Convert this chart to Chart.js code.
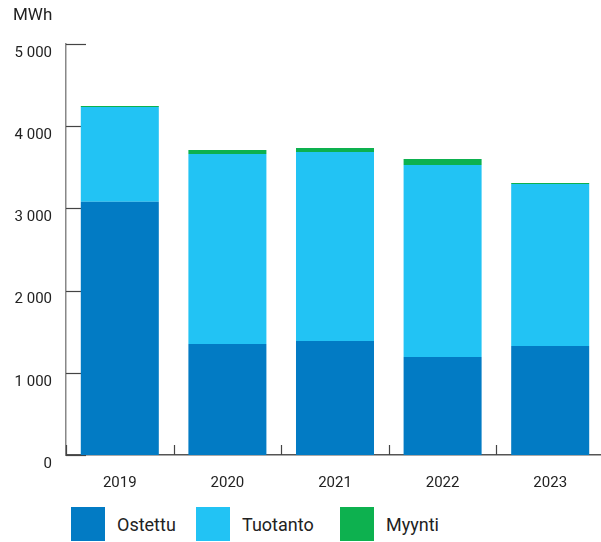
<!DOCTYPE html>
<html>
<head>
<meta charset="utf-8">
<script src="https://cdn.jsdelivr.net/npm/chart.js@4/dist/chart.umd.min.js"></script>
<style>
	html, body { margin: 0; padding: 0; background: #fff; }
	#wrap { position: relative; width: 601px; height: 542px; font-family: Roboto, sans-serif; overflow: hidden; }
	#plot { position: absolute; left: 0; top: 0; width: 604px; height: 500px; }
	#legend { position: absolute; left: 71px; top: 507px; display: flex; }
	.item { display: flex; align-items: center; }
	.item:nth-child(1) { width: 125px; }
	.item:nth-child(2) { width: 144px; }
	.swatch { width: 34px; height: 34px; margin-right: 12px; }
	.text { font-size: 18px; color: #222; }
</style>
</head>
<body>
<div id="wrap">
	<div id="plot"><canvas id="chart"></canvas></div>
	<div id="legend"></div>
</div>
<script>
const years = ['2019', '2020', '2021', '2022', '2023'];
const ostettu = [3081, 1350, 1387, 1192, 1326];
const tuotanto = [1153, 2312, 2299, 2336, 1971];
const myynti = [12, 48, 49, 73, 12];
const yTicks = [0, 1000, 2000, 3000, 4000, 5000];

const FONT = 'Roboto, sans-serif';

// short tick marks pointing into the plot, drawn behind the bars
const innerTicks = {
	id: 'innerTicks',
	beforeDatasetsDraw(chart) {
		const { ctx, chartArea, scales } = chart;
		ctx.save();
		ctx.strokeStyle = '#444';
		ctx.lineWidth = 1.2;
		yTicks.forEach((v) => {
			const y = Math.round(scales.y.getPixelForValue(v)) + 0.5;
			ctx.beginPath();
			ctx.moveTo(chartArea.left, y);
			ctx.lineTo(chartArea.left + 20, y);
			ctx.stroke();
		});
		const half = (scales.x.getPixelForValue(1) - scales.x.getPixelForValue(0)) / 2;
		for (let i = 0; i <= years.length; i++) {
			const x = Math.round(scales.x.getPixelForValue(i) - half) + 0.5;
			ctx.beginPath();
			ctx.moveTo(x, chartArea.bottom);
			ctx.lineTo(x, chartArea.bottom - 10);
			ctx.stroke();
		}
		ctx.restore();
	},
};

const chart = new Chart(document.getElementById('chart'), {
	type: 'bar',
	data: {
		labels: years,
		datasets: [
			{ label: 'Ostettu', data: ostettu, backgroundColor: '#027bc4' },
			{ label: 'Tuotanto', data: tuotanto, backgroundColor: '#22c3f4' },
			{ label: 'Myynti', data: myynti, backgroundColor: '#0db14f' },
		],
	},
	options: {
		responsive: true,
		maintainAspectRatio: false,
		animation: false,
		datasets: {
			bar: { categoryPercentage: 1, barPercentage: 0.725 },
		},
		layout: { padding: { left: 13, right: 0, top: 0, bottom: 0 } },
		scales: {
			x: {
				stacked: true,
				afterFit: (scale) => { scale.height = 45; },
				grid: { display: false, drawTicks: false },
				border: { color: '#555', width: 1.5 },
				ticks: { color: '#222', font: { family: FONT, size: 15 }, padding: 19 },
			},
			y: {
				stacked: true,
				min: 0,
				max: 5000,
				afterFit: (scale) => { scale.width = 53; },
				afterBuildTicks: (scale) => { scale.ticks = yTicks.map((v) => ({ value: v })); },
				grid: { display: false, drawTicks: false },
				border: { color: '#888', width: 1.5 },
				ticks: {
					color: '#222',
					font: { family: FONT, size: 15 },
					padding: 14,
					labelOffset: 9,
					callback: (v) => String(v).replace(/\B(?=(\d{3})+(?!\d))/g, '\u00a0'),
				},
			},
		},
		plugins: {
			title: {
				display: true,
				text: 'MWh',
				align: 'start',
				color: '#222',
				font: { family: FONT, size: 17, weight: 'normal' },
				padding: { top: 6, bottom: 17.6 },
			},
			legend: { display: false },
			tooltip: { enabled: false },
		},
	},
	plugins: [innerTicks],
});

// html legend built from the datasets
const legendEl = document.getElementById('legend');
chart.data.datasets.forEach((ds) => {
	const item = document.createElement('div');
	item.className = 'item';
	item.innerHTML = `<span class="swatch" style="background:${ds.backgroundColor}"></span><span class="text">${ds.label}</span>`;
	legendEl.appendChild(item);
});
</script>
</body>
</html>
